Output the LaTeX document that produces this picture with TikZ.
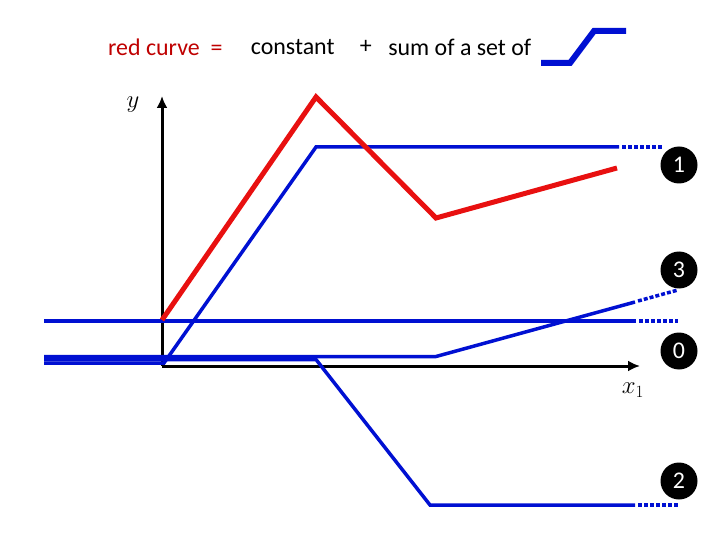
\documentclass[tikz,border=0pt]{standalone}
\usepackage{fontspec}
\setmainfont{Carlito}
\usepackage{xcolor}
\usepackage{tikz}
\usetikzlibrary{arrows.meta, positioning}

\definecolor{curvered}{RGB}{232,16,16}
\definecolor{curveblue}{RGB}{0,16,210}

\begin{document}
\begin{tikzpicture}[x=1bp, y=-1bp, node distance=14bp, font=\fontsize{24}{28}\selectfont]
        \useasboundingbox (0,0) rectangle (720,540);

        % Equation at the top
        \node[anchor=west, inner sep=0, text=red!75!black] (red) at (108,47) {red curve\ \ =};
        \node[right=28bp of red.east, anchor=west, inner sep=0] (constant) {constant};
        \node[right=25bp of constant.east, anchor=west, inner sep=0] (plus) {+};
        \node[right=16bp of plus.east, anchor=west, inner sep=0] (sumof) {sum of a set of};
        \draw[curveblue, line width=6bp] (541,63) -- (570,63) -- (594,31) -- (626,31);

        % Axes
        \coordinate (origin) at (162,366);
        \coordinate (ytip) at (162,96);
        \coordinate (xtip) at (640,366);
        \draw[line width=3bp, -{Latex[length=12bp, width=11bp]}] (origin) -- (ytip);
        \draw[line width=3bp, -{Latex[length=12bp, width=11bp]}] (origin) -- (xtip);
        \node (ylabel) at (133,105) {$y$};
        \node (xlabel) at (633,390) {$x_1$};

        % Blue curve 0 (constant)
        \draw[curveblue, line width=3.5bp] (44,321) -- (636,321);
        \draw[curveblue, line width=3.5bp, dash pattern=on 4bp off 2bp] (639,321) -- (678,321);

        % Blue curve 1
        \draw[curveblue, line width=3.5bp] (44,363) -- (164,363) -- (316,147) -- (619,147);
        \draw[curveblue, line width=3.5bp, dash pattern=on 4bp off 2bp] (622,147) -- (662,147);

        % Blue curve 2
        \draw[curveblue, line width=3.5bp] (44,359.5) -- (316,359.5) -- (430,505) -- (635,505);
        \draw[curveblue, line width=3.5bp, dash pattern=on 4bp off 2bp] (638,505) -- (678,505);

        % Blue curve 3
        \draw[curveblue, line width=3.5bp] (44,356.5) -- (436,356.5) -- (635,302);
        \draw[curveblue, line width=3.5bp, dash pattern=on 4bp off 2bp] (638,301) -- (678,290);

        % Red curve
        \draw[curvered, line width=5bp] (162,320) -- (316,97) -- (436,218) -- (617,168);

        % Labels of the blue curves
        \node[circle, fill=black, text=white, minimum size=37bp, inner sep=0] (one) at (679,165) {1};
        \node[circle, fill=black, text=white, minimum size=37bp, inner sep=0] (three) at (679,270) {3};
        \node[circle, fill=black, text=white, minimum size=37bp, inner sep=0] (zero) at (679,351) {0};
        \node[circle, fill=black, text=white, minimum size=37bp, inner sep=0] (two) at (679,481) {2};
    \end{tikzpicture}
\end{document}
